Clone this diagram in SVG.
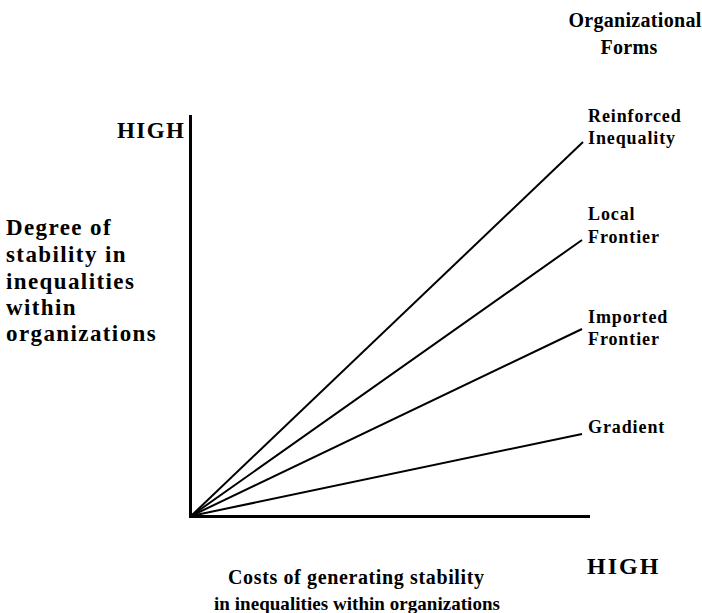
<svg xmlns="http://www.w3.org/2000/svg" width="702" height="613" viewBox="0 0 702 613">
<style>
text{font-family:"Liberation Serif","Times New Roman",serif;font-weight:bold;fill:#000}
.ax{font-size:23px;letter-spacing:1.4px}
.ti{font-size:20px;letter-spacing:0.3px}
.lb{font-size:18px;letter-spacing:0.9px}
.bt{font-size:20px}
.ln{stroke:#000;stroke-width:2;fill:none}
.axis{stroke:#000;stroke-width:3;fill:none}
</style>
<rect width="702" height="613" fill="#fff"/>
<g id="axes">
<line class="axis" x1="190.5" y1="115" x2="190.5" y2="517"/>
<line class="axis" x1="189" y1="516.5" x2="590" y2="516.5"/>
</g>
<g id="connectors">
<line class="ln" x1="191" y1="516" x2="583" y2="142"/>
<line class="ln" x1="191" y1="516" x2="582" y2="240"/>
<line class="ln" x1="191" y1="516" x2="582" y2="329"/>
<line class="ln" x1="191" y1="516" x2="582" y2="434"/>
</g>
<g id="title">
<text class="ti" x="635" y="27" text-anchor="middle">Organizational</text>
<text class="ti" x="629" y="54" text-anchor="middle">Forms</text>
</g>
<g id="y-high"><text class="ax" x="117" y="138">HIGH</text></g>
<g id="y-label">
<text class="ax" x="6" y="235">Degree of</text>
<text class="ax" x="6" y="262">stability in</text>
<text class="ax" x="6" y="289">inequalities</text>
<text class="ax" x="6" y="315">within</text>
<text class="ax" x="6" y="341">organizations</text>
</g>
<g id="reinforced">
<text class="lb" x="588" y="122">Reinforced</text>
<text class="lb" x="588" y="144">Inequality</text>
</g>
<g id="local">
<text class="lb" x="588" y="220">Local</text>
<text class="lb" x="588" y="243">Frontier</text>
</g>
<g id="imported">
<text class="lb" x="588" y="323">Imported</text>
<text class="lb" x="588" y="345">Frontier</text>
</g>
<g id="gradient"><text class="lb" x="588" y="433">Gradient</text></g>
<g id="x-high"><text class="ax" x="587" y="574" style="font-size:24px;letter-spacing:2px">HIGH</text></g>
<g id="x-label">
<text class="bt" x="228" y="584" textLength="256" lengthAdjust="spacing">Costs of generating stability</text>
<text class="bt" x="214" y="610" textLength="286" lengthAdjust="spacing" style="font-size:19px">in inequalities within organizations</text>
</g>
</svg>
